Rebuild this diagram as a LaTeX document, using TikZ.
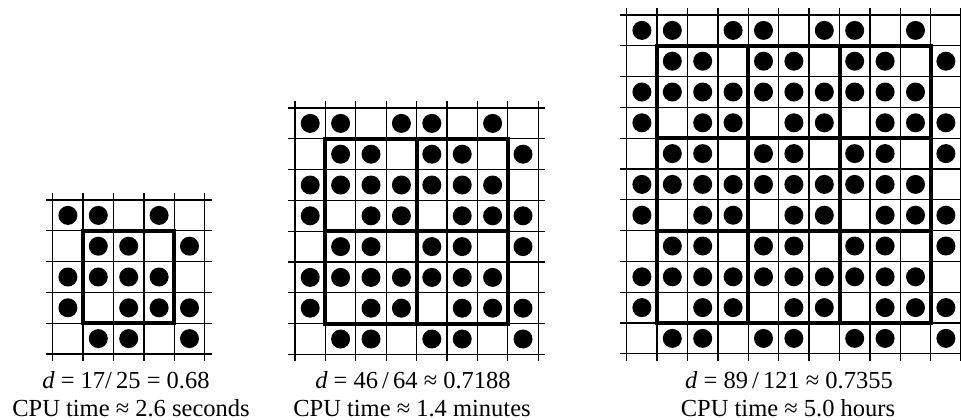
\documentclass[tikz,border=0pt]{standalone}
\usepackage{fontspec}
\setmainfont{Liberation Serif}
\begin{document}
\begin{tikzpicture}[x=1pt,y=-1pt,
  thingrid/.style={line width=1.3pt},
  thickbox/.style={line width=4pt, line cap=rect},
  caption/.style={font=\fontsize{24.5}{28}\selectfont, inner sep=0pt, anchor=base}]
\useasboundingbox (0,0) rectangle (961,420);
\foreach \xo/\yo/\n in {52.7/200/5, 295/108/8, 626.7/15/11} {
  \pgfmathtruncatemacro\last{\n-1}
  \pgfmathsetmacro\W{\n*30.4}
  \pgfmathsetmacro\H{\n*30.8}
  \pgfmathtruncatemacro\kk{(\n-2)/3}
  % thin grid
  \foreach \i in {0,...,\n} {
    \draw[thingrid] (\xo+\i*30.4, \yo-7) -- (\xo+\i*30.4, \yo+\H+7);
    \draw[thingrid] (\xo-7, \yo+\i*30.8) -- (\xo+\W+7, \yo+\i*30.8);
  }
  % thick boxes
  \foreach \t in {0,...,\kk} {
    \draw[thickbox] (\xo+30.4+\t*91.2, \yo+30.8) -- (\xo+30.4+\t*91.2, \yo+\H-30.8);
    \draw[thickbox] (\xo+30.4, \yo+30.8+\t*92.4) -- (\xo+\W-30.4, \yo+30.8+\t*92.4);
  }
  % dots
  \foreach \r in {0,...,\last} {
    \foreach \j in {0,...,\last} {
      \pgfmathtruncatemacro\rr{mod(\r,3)}
      \pgfmathtruncatemacro\jj{mod(\j,3)}
      \pgfmathtruncatemacro\hasdot{(\r==0) ? (((\jj!=2)&&(\j!=\last))?1:0) : ((\rr==1) ? ((\jj!=0)?1:0) : ((\rr==2) ? ((\j!=\last)?1:0) : (((\jj!=1)||(\j==\last))?1:0)))}
      \ifnum\hasdot=1
        \fill (\xo+\j*30.4+15.2, \yo+\r*30.8+15.4) circle[radius=9.5pt];
      \fi
    }
  }
}
\node[caption] (d1) at (126,388.5) {\textit{d} = 17/\,25 = 0.68};
\node[caption] (c1) at (131,416.6) {CPU time ≈ 2.6 seconds};
\node[caption] (d2) at (413,388.5) {\textit{d} = 46\,/\,64 ≈ 0.7188};
\node[caption] (c2) at (412,416.6) {CPU time ≈ 1.4 minutes};
\node[caption] (d3) at (789,388.5) {\textit{d} = 89\,/\,121 ≈ 0.7355};
\node[caption] (c3) at (788,416.6) {CPU time ≈ 5.0 hours};
\end{tikzpicture}
\end{document}
